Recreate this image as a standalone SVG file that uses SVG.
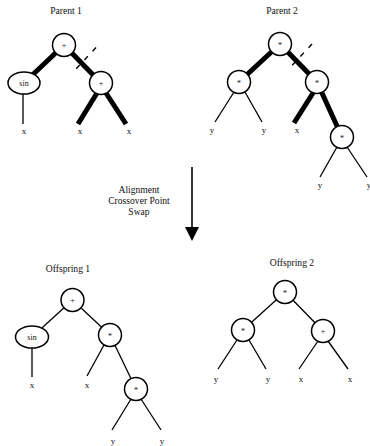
<svg xmlns="http://www.w3.org/2000/svg" width="370" height="446" viewBox="0 0 370 446">
<style>
text{font-family:"Liberation Serif","Times New Roman",serif;fill:#111;text-anchor:middle}
.t{font-size:9.6px}
.op{font-size:8px}
.lf{font-size:9px}
.n{fill:#fff;stroke:#000;stroke-width:1.5}
.e{stroke:#000;stroke-width:1.3;fill:none;stroke-linecap:butt}
.k{stroke:#000;stroke-width:5;fill:none}
.d{stroke:#000;stroke-width:1.4;stroke-dasharray:5,7;fill:none}
</style>
<defs>
<marker id="ah" markerWidth="14" markerHeight="14" refX="0" refY="7" orient="auto" markerUnits="userSpaceOnUse">
<path d="M0,0 L14,7 L0,14 Z" fill="#000"/>
</marker>
</defs>

<g id="titles">
<text class="t" x="66" y="13.5">Parent 1</text>
<text class="t" x="282" y="13.5">Parent 2</text>
<text class="t" x="68" y="271.5">Offspring 1</text>
<text class="t" x="292" y="266">Offspring 2</text>
</g>

<g id="connectors">
<!-- Parent 1 -->
<line class="d" x1="96" y1="47.5" x2="76" y2="69"/>
<line class="k" x1="64" y1="45" x2="24" y2="83"/>
<line class="k" x1="64" y1="45" x2="101" y2="83"/>
<line class="e" x1="23" y1="94" x2="23" y2="124"/>
<line class="k" x1="97" y1="93" x2="78" y2="124"/>
<line class="k" x1="106" y1="93" x2="126" y2="124"/>
<!-- Parent 2 -->
<line class="d" x1="312" y1="44" x2="291.5" y2="66"/>
<line class="k" x1="280" y1="44" x2="239" y2="82"/>
<line class="k" x1="280" y1="44" x2="317" y2="82"/>
<line class="e" x1="234" y1="92" x2="215" y2="122"/>
<line class="e" x1="245" y1="92" x2="262" y2="122"/>
<line class="k" x1="313" y1="93" x2="294" y2="123"/>
<line class="k" x1="317" y1="82" x2="342" y2="137"/>
<line class="e" x1="337" y1="147" x2="320" y2="177"/>
<line class="e" x1="347" y1="147" x2="367" y2="177"/>
<!-- Arrow -->
<line x1="192" y1="167" x2="192" y2="227" stroke="#000" stroke-width="1.6" marker-end="url(#ah)"/>
<!-- Offspring 1 -->
<line class="e" x1="72.5" y1="300" x2="32" y2="337"/>
<line class="e" x1="72.5" y1="300" x2="110" y2="335"/>
<line class="e" x1="32" y1="348" x2="32" y2="377"/>
<line class="e" x1="104" y1="345" x2="87" y2="376"/>
<line class="e" x1="110" y1="335" x2="136" y2="389"/>
<line class="e" x1="131" y1="399" x2="112" y2="430"/>
<line class="e" x1="141" y1="399" x2="161" y2="430"/>
<!-- Offspring 2 -->
<line class="e" x1="285" y1="292" x2="243" y2="330"/>
<line class="e" x1="285" y1="292" x2="323" y2="331"/>
<line class="e" x1="237" y1="340" x2="218" y2="369"/>
<line class="e" x1="249" y1="340" x2="266" y2="369"/>
<line class="e" x1="318" y1="341" x2="299" y2="369"/>
<line class="e" x1="328" y1="341" x2="348" y2="369"/>
</g>

<g id="arrow-label">
<text class="t" x="139" y="192.5">Alignment</text>
<text class="t" x="139" y="204">Crossover Point</text>
<text class="t" x="139" y="215">Swap</text>
</g>

<!-- Parent 1 nodes -->
<g id="p1-root"><circle class="n" cx="64" cy="45" r="11.5"/><text class="op" x="64" y="48">+</text></g>
<g id="p1-sin"><ellipse class="n" cx="24" cy="83" rx="16" ry="11"/><text class="op" x="24" y="86">sin</text></g>
<g id="p1-plus"><circle class="n" cx="101" cy="83" r="11.5"/><text class="op" x="101" y="86">+</text></g>
<g id="p1-x1"><text class="lf" x="24" y="133.5">x</text></g>
<g id="p1-x2"><text class="lf" x="80" y="133.5">x</text></g>
<g id="p1-x3"><text class="lf" x="129" y="133.5">x</text></g>

<!-- Parent 2 nodes -->
<g id="p2-root"><circle class="n" cx="280" cy="44" r="11.5"/><text class="op" x="280" y="48">*</text></g>
<g id="p2-left"><circle class="n" cx="239" cy="82" r="11.5"/><text class="op" x="239" y="86">*</text></g>
<g id="p2-right"><circle class="n" cx="317" cy="82" r="11.5"/><text class="op" x="317" y="86">*</text></g>
<g id="p2-bottom"><circle class="n" cx="342" cy="137" r="11.5"/><text class="op" x="342" y="141">*</text></g>
<g id="p2-y1"><text class="lf" x="212" y="132.5">y</text></g>
<g id="p2-y2"><text class="lf" x="264" y="132.5">y</text></g>
<g id="p2-x"><text class="lf" x="297" y="132.5">x</text></g>
<g id="p2-y3"><text class="lf" x="320" y="187.5">y</text></g>
<g id="p2-y4"><text class="lf" x="369" y="187.5">y</text></g>

<!-- Offspring 1 nodes -->
<g id="o1-root"><circle class="n" cx="72.5" cy="300" r="11.5"/><text class="op" x="72.5" y="303">+</text></g>
<g id="o1-sin"><ellipse class="n" cx="32" cy="337" rx="16.5" ry="11"/><text class="op" x="32" y="340">sin</text></g>
<g id="o1-mul"><circle class="n" cx="110" cy="335" r="11.5"/><text class="op" x="110" y="339">*</text></g>
<g id="o1-mul2"><circle class="n" cx="136" cy="389" r="11.5"/><text class="op" x="136" y="393">*</text></g>
<g id="o1-x1"><text class="lf" x="32" y="388">x</text></g>
<g id="o1-x2"><text class="lf" x="87" y="388">x</text></g>
<g id="o1-y1"><text class="lf" x="113" y="444">y</text></g>
<g id="o1-y2"><text class="lf" x="162" y="444">y</text></g>

<!-- Offspring 2 nodes -->
<g id="o2-root"><circle class="n" cx="285" cy="292" r="11.5"/><text class="op" x="285" y="296">*</text></g>
<g id="o2-left"><circle class="n" cx="243" cy="330" r="11.5"/><text class="op" x="243" y="334">*</text></g>
<g id="o2-right"><circle class="n" cx="323" cy="331" r="11.5"/><text class="op" x="323" y="334">+</text></g>
<g id="o2-y1"><text class="lf" x="216" y="382">y</text></g>
<g id="o2-y2"><text class="lf" x="268" y="382">y</text></g>
<g id="o2-x1"><text class="lf" x="301" y="382">x</text></g>
<g id="o2-x2"><text class="lf" x="350" y="382">x</text></g>
</svg>
